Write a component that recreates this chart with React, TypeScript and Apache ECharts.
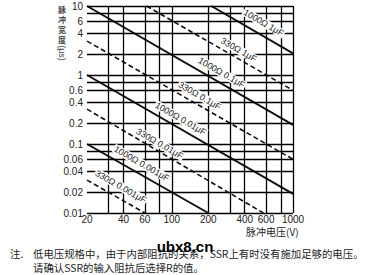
import React, { useEffect, useRef } from "react";
import * as echarts from "echarts";

// Axis ticks (labels) and grid lines, in real units
const xTickLabels = [20, 40, 60, 100, 200, 400, 600, 1000];
const yTickLabels = [0.01, 0.02, 0.04, 0.06, 0.1, 0.2, 0.4, 0.6, 1, 2, 4, 6, 10];
const xGridValues = [20, 30, 40, 60, 80, 100, 200, 300, 400, 600, 800, 1000];
const yGridValues = [0.01, 0.02, 0.04, 0.06, 0.08, 0.1, 0.2, 0.4, 0.6, 0.8, 1, 2, 4, 6, 8, 10];

// Series: pulse voltage (V) vs pulse width (µs)
const seriesNames = [
  "1000Ω 1μF",
  "330Ω 1μF",
  "1000Ω 0.1μF",
  "330Ω 0.1μF",
  "1000Ω 0.01μF",
  "330Ω 0.01μF",
  "1000Ω 0.001μF",
  "330Ω 0.001μF",
];
const line1000_1 = [[212, 10], [1000, 2.05]];
const line330_1 = [[62, 10], [1000, 0.6]];
const line1000_01 = [[20, 10], [1000, 0.19]];
const line330_01 = [[20, 3.1], [1000, 0.06]];
const line1000_001 = [[20, 1.0], [1000, 0.019]];
const line330_001 = [[20, 0.32], [570, 0.01]];
const line1000_0001 = [[20, 0.1], [200, 0.01]];
const line330_0001 = [[20, 0.03], [60, 0.01]];
const seriesData = [
  line1000_1, line330_1, line1000_01, line330_01,
  line1000_001, line330_001, line1000_0001, line330_0001,
];
const dashedFlags = [false, true, false, true, false, true, false, true];

// Where each line's label sits (data coordinates: V, µs)
const labelAnchors = [
  [546, 5.43], [340, 2.21], [246, 1.03], [162, 0.477],
  [113, 0.222], [75.9, 0.0964], [53.9, 0.0495], [36.2, 0.023],
];

const yTitleChars = ["脉", "冲", "宽", "度"];

const L = (v: number) => Math.log10(v);
const fmt = (v: number) => String(parseFloat(Math.pow(10, v).toPrecision(2)));
const FONT = "'Liberation Sans', Arial, sans-serif";
const CJK = "'Noto Sans CJK SC', sans-serif";

export default function App() {
  const ref = useRef<HTMLDivElement>(null);
  useEffect(() => {
    if (!ref.current) return;
    const chart = echarts.init(ref.current, undefined, { renderer: "svg" });
    const lineSeries = seriesNames.map((name, i) => ({
      type: "line",
      name,
      data: seriesData[i].map((p) => [L(p[0]), L(p[1])]),
      showSymbol: false,
      symbol: "none",
      silent: true,
      z: 3,
      lineStyle: {
        color: "#111",
        width: dashedFlags[i] ? 1.6 : 2,
        type: dashedFlags[i] ? [5, 3] : "solid",
      },
      markPoint: {
        symbol: "circle",
        symbolSize: 0,
        silent: true,
        z: 5,
        data: [{ coord: [L(labelAnchors[i][0]), L(labelAnchors[i][1])], value: 0 }],
        label: {
          show: true,
          position: "inside",
          formatter: name,
          rotate: -30,
          offset: [1.5, -2.5],
          color: "#222",
          fontSize: 9,
          fontFamily: FONT,
          backgroundColor: "#fff",
          padding: [0, 1],
        },
      },
    }));
    const gridSeries = {
      type: "line",
      data: [],
      silent: true,
      z: 1,
      markLine: {
        symbol: ["none", "none"],
        silent: true,
        animation: false,
        label: { show: false },
        lineStyle: { color: "#000", width: 1.3, type: "solid" },
        data: [
          ...xGridValues.map((v) => ({ xAxis: L(v) })),
          ...yGridValues.map((v) => ({ yAxis: L(v) })),
        ],
      },
    };
    const yTitle = yTitleChars.map((ch, i) => ({
      type: "text",
      x: 62,
      y: 9 + i * 10,
      style: {
        text: ch,
        fontSize: 8,
        fontWeight: "bold",
        fontFamily: CJK,
        fill: "#444",
        align: "center",
        verticalAlign: "middle",
      },
    }));
    chart.setOption({
      animation: false,
      grid: { left: 87, top: 6, width: 206, height: 207 },
      xAxis: {
        type: "value",
        min: L(20),
        max: 3,
        axisLine: { show: false },
        axisTick: { show: false },
        splitLine: { show: false },
        axisLabel: {
          customValues: xTickLabels.map(L),
          formatter: (v: number) => fmt(v),
          margin: 1,
          color: "#222",
          fontSize: 10,
          fontFamily: FONT,
        },
      },
      yAxis: {
        type: "value",
        min: -2,
        max: 1,
        axisLine: { show: false },
        axisTick: { show: false },
        splitLine: { show: false },
        axisLabel: {
          customValues: yTickLabels.map(L),
          formatter: (v: number) => fmt(v),
          margin: 4,
          color: "#222",
          fontSize: 10,
          fontFamily: FONT,
        },
      },
      graphic: [
        ...yTitle,
        {
          type: "text",
          x: 62,
          y: 53,
          rotation: -Math.PI / 2,
          style: {
            text: "(μs)",
            fontSize: 9,
            fontFamily: FONT,
            fill: "#444",
            align: "center",
            verticalAlign: "middle",
          },
        },
        {
          type: "text",
          x: 246,
          y: 231,
          style: {
            text: "脉冲电压(V)",
            fontSize: 10,
            fontFamily: CJK,
            fill: "#222",
            align: "left",
            verticalAlign: "middle",
          },
        },
        {
          type: "text",
          x: 10,
          y: 253,
          style: { text: "注.", fontSize: 10.5, fontFamily: CJK, fill: "#222", verticalAlign: "middle" },
        },
        {
          type: "text",
          x: 33,
          y: 253,
          style: {
            text: "低电压规格中，由于内部阻抗的关系，SSR上有时没有施加足够的电压。",
            fontSize: 10.4,
            fontFamily: CJK,
            fill: "#222",
            verticalAlign: "middle",
          },
        },
        {
          type: "text",
          x: 33,
          y: 267,
          style: {
            text: "请确认SSR的输入阻抗后选择R的值。",
            fontSize: 10.4,
            fontFamily: CJK,
            fill: "#222",
            verticalAlign: "middle",
          },
        },
        {
          type: "text",
          x: 185,
          y: 246,
          style: {
            text: "ubx8.cn",
            fontSize: 15,
            fontWeight: "bold",
            fontFamily: FONT,
            fill: "#000",
            align: "center",
            verticalAlign: "middle",
          },
        },
      ],
      series: [gridSeries, ...lineSeries],
    });
    return () => chart.dispose();
  }, []);
  return (
    <div
      ref={ref}
      style={{ position: "absolute", left: 0, top: 0, width: 368, height: 275, background: "#fff" }}
    />
  );
}
